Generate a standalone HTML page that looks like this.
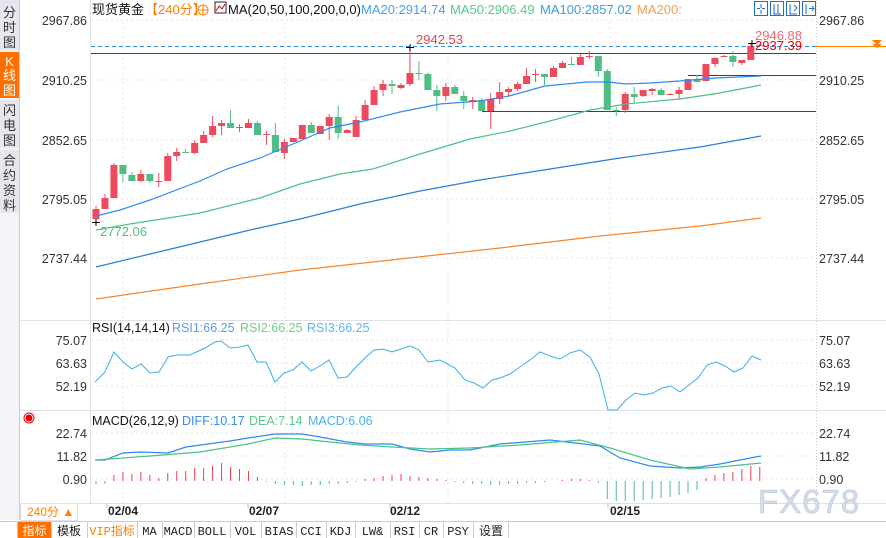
<!DOCTYPE html>
<html><head><meta charset="utf-8"><style>
body{margin:0;width:886px;height:538px;overflow:hidden;background:#fff;font-family:"Liberation Sans","Noto Sans CJK SC",sans-serif;}
svg{position:absolute;left:0;top:0}
</style></head><body>
<svg id="s" width="886" height="538" xmlns="http://www.w3.org/2000/svg" font-family="Liberation Sans, Noto Sans CJK SC, sans-serif">
<rect x="0" y="0" width="19" height="520" fill="#f4f4f8"/>
<rect x="0" y="0" width="19" height="50" fill="#e6e6ee"/>
<rect x="0" y="52" width="19" height="46" fill="#ff6f00"/>
<rect x="0" y="100" width="19" height="48" fill="#e6e6ee"/>
<rect x="0" y="150" width="19" height="63" fill="#e6e6ee"/>
<line x1="19.5" y1="0" x2="19.5" y2="520" stroke="#c8ccd6"/>
<g font-size="13" fill="#333" text-anchor="middle">
<text x="9.5" y="17">分</text><text x="9.5" y="32">时</text><text x="9.5" y="47">图</text>
<text x="9.5" y="66" fill="#fff">K</text><text x="9.5" y="80" fill="#fff">线</text><text x="9.5" y="95" fill="#fff">图</text>
<text x="9.5" y="115">闪</text><text x="9.5" y="130">电</text><text x="9.5" y="145">图</text>
<text x="9.5" y="165">合</text><text x="9.5" y="180">约</text><text x="9.5" y="195">资</text><text x="9.5" y="210">料</text>
</g>
<line x1="90.5" y1="0" x2="90.5" y2="503" stroke="#dde2ea"/>
<line x1="816.5" y1="0" x2="816.5" y2="503" stroke="#ccc" stroke-dasharray="1,2"/>
<line x1="20" y1="320.5" x2="886" y2="320.5" stroke="#dde2ea"/>
<line x1="20" y1="410.5" x2="886" y2="410.5" stroke="#dde2ea"/>
<line x1="20" y1="503.5" x2="886" y2="503.5" stroke="#dde2ea"/>
<g stroke="#e4e4e4" stroke-dasharray="2,3">
<line x1="91" y1="20" x2="816" y2="20"/><line x1="91" y1="80" x2="816" y2="80"/><line x1="91" y1="140" x2="816" y2="140"/><line x1="91" y1="199" x2="816" y2="199"/><line x1="91" y1="258" x2="816" y2="258"/>
<line x1="91" y1="340" x2="816" y2="340"/><line x1="91" y1="363" x2="816" y2="363"/><line x1="91" y1="386" x2="816" y2="386"/>
<line x1="91" y1="433" x2="816" y2="433"/><line x1="91" y1="456" x2="816" y2="456"/><line x1="91" y1="479" x2="816" y2="479"/>
<line x1="123" y1="22" x2="123" y2="503"/><line x1="285" y1="22" x2="285" y2="503"/><line x1="448" y1="22" x2="448" y2="503"/><line x1="610" y1="22" x2="610" y2="503"/>
</g>
<g font-size="12.5" fill="#333">
<g text-anchor="end"><text x="87" y="25">2967.86</text><text x="87" y="85">2910.25</text><text x="87" y="145">2852.65</text><text x="87" y="204">2795.05</text><text x="87" y="263">2737.44</text>
<text x="87" y="345">75.07</text><text x="87" y="368">63.63</text><text x="87" y="391">52.19</text>
<text x="87" y="438">22.74</text><text x="87" y="461">11.82</text><text x="87" y="484">0.90</text></g>
<text x="819" y="25">2967.86</text><text x="819" y="85">2910.25</text><text x="819" y="145">2852.65</text><text x="819" y="204">2795.05</text><text x="819" y="263">2737.44</text>
<text x="819" y="345">75.07</text><text x="819" y="368">63.63</text><text x="819" y="391">52.19</text>
<text x="819" y="438">22.74</text><text x="819" y="461">11.82</text><text x="819" y="484">0.90</text>
</g>
<g font-size="13">
<text x="92" y="14" fill="#111">现货黄金</text>
<text x="145" y="14" fill="#ff7f00">【240分】</text>
<circle cx="203" cy="10" r="5" fill="none" stroke="#ff7f00"/><line x1="198" y1="10" x2="208" y2="10" stroke="#ff7f00"/><line x1="203" y1="5" x2="203" y2="15" stroke="#ff7f00"/>
<rect x="215" y="2" width="11" height="11" fill="#fff" stroke="#223"/><polyline points="216,11 219,6 222,9 225,4" fill="none" stroke="#d00"/>
<text x="228" y="14" fill="#111">MA(20,50,100,200,0,0)</text>
<text x="361" y="14" fill="#4a9ef0">MA20:2914.74</text>
<text x="450" y="14" fill="#57c98a">MA50:2906.49</text>
<text x="540" y="14" fill="#3aa0e0">MA100:2857.02</text>
<text x="637" y="14" fill="#f6a050">MA200:</text>
<text x="92" y="332" fill="#111" font-size="12.5">RSI(14,14,14)</text>
<text x="172" y="332" fill="#5a9cf0" font-size="12.5">RSI1:66.25</text>
<text x="240" y="332" fill="#6cd08a" font-size="12.5">RSI2:66.25</text>
<text x="307" y="332" fill="#5ab8f0" font-size="12.5">RSI3:66.25</text>
<text x="92" y="425" fill="#111" font-size="12.5">MACD(26,12,9)</text>
<text x="182" y="425" fill="#3a8af0" font-size="12.5">DIFF:10.17</text>
<text x="249" y="425" fill="#5ac88a" font-size="12.5">DEA:7.14</text>
<text x="308" y="425" fill="#4ab0f0" font-size="12.5">MACD:6.06</text>
</g>
<g fill="none" stroke="#e00"><circle cx="29" cy="418" r="3" fill="#e00"/><circle cx="29" cy="418" r="5"/></g>
<g fill="none" stroke="#1e6fc8"><rect x="754.5" y="1.5" width="13" height="14"/><rect x="770.5" y="1.5" width="13" height="14"/><rect x="786.5" y="1.5" width="13" height="14"/><rect x="802.5" y="1.5" width="13" height="14"/>
<path d="M761 4v4M761 10v4M757 8.5h3M762 8.5h3M774 4v10h7M778 4v10M790 4v10h7M794 5l3 3-3 3M806 4v10M809 8.5h5M812 6l2 2.5-2 2.5"/></g>
<line x1="91" y1="46.5" x2="816" y2="46.5" stroke="#2f8fe8" stroke-dasharray="4,3"/>
<line x1="816" y1="46.5" x2="886" y2="46.5" stroke="#ff8000"/>
<path d="M872 40h10l-5 5zM872 44h10l-5 4z" fill="#ff8000"/>
<line x1="91" y1="53.5" x2="816" y2="53.5" stroke="#e00000"/>
<line x1="688" y1="75.5" x2="816" y2="75.5" stroke="#e00000"/>
<line x1="482" y1="111.5" x2="816" y2="111.5" stroke="#e00000"/>
<g id="c"></g>
<g font-size="13">
<text x="416" y="44" fill="#ee3c52">2942.53</text>
<text x="755" y="40" fill="#ee6a7a">2946.88</text>
<text x="755" y="50" fill="#e00">2937.39</text>
<text x="100" y="236" fill="#50c080">2772.06</text>
</g>
<g stroke="#000"><path d="M406 47.5h8M410 44v7M92 222.5h8M96 219v7M748 43.5h8M752 40v7"/></g>
<rect x="20" y="504" width="866" height="17" fill="#fff"/>
<rect x="20.5" y="503.5" width="57" height="17" fill="none" stroke="#dde2ea"/>
<text x="27" y="516" font-size="12" fill="#ff7f00">240分 ▲</text>
<g stroke="#bbb"><line x1="107" y1="503" x2="107" y2="508"/><line x1="248" y1="503" x2="248" y2="508"/><line x1="390" y1="503" x2="390" y2="508"/><line x1="608" y1="503" x2="608" y2="508"/></g>
<g font-size="12" fill="#222" font-weight="bold"><text x="108" y="515">02/04</text><text x="249" y="515">02/07</text><text x="390" y="515">02/12</text><text x="610" y="515">02/15</text></g>
<text x="758" y="513" font-size="33" fill="#d4dde8" stroke="#b8c6d6" stroke-width="0.6" letter-spacing="1">FX678</text>
<rect x="0" y="521" width="886" height="17" fill="#fff"/>
<line x1="0" y1="521.5" x2="886" y2="521.5" stroke="#ccc"/>
<rect x="18" y="522" width="33" height="16" fill="#ff6f00"/>
<g stroke="#ccc"><path d="M51.5 522v16M87.5 522v16M137.5 522v16M162.5 522v16M194.5 522v16M230.5 522v16M261.5 522v16M296.5 522v16M326.5 522v16M355.5 522v16M390.5 522v16M419.5 522v16M443.5 522v16M473.5 522v16M508.5 522v16M17.5 522v16"/></g>
<g font-size="12" fill="#222" text-anchor="middle" font-family="Liberation Mono, Noto Sans CJK SC, monospace">
<text x="34.5" y="535" fill="#fff">指标</text><text x="69" y="535">模板</text><text x="112" y="535" fill="#ff7f00">VIP指标</text><text x="149.5" y="535">MA</text><text x="178" y="535">MACD</text><text x="212" y="535">BOLL</text><text x="245.5" y="535">VOL</text><text x="279" y="535">BIAS</text><text x="311" y="535">CCI</text><text x="340.5" y="535">KDJ</text><text x="372.5" y="535">LW&amp;</text><text x="404.5" y="535">RSI</text><text x="431" y="535">CR</text><text x="458" y="535">PSY</text><text x="491" y="535">设置</text></g>
</svg>
<script>
var C=[[219,209,206,222,1],[209,198,194,209,1],[198,165,163,198,1],[165,174,165,182,0],[175,181,172,181,0],[181,174,170,182,1],[174,181,174,183,0],[181,181,173,187,1],[181,156,153,181,1],[156,152,148,161,1],
[152,153,149,153,0],[153,143,140,154,1],[143,135,131,143,1],[135,126,116,137,1],[126,123,120,135,1],[123,128,110,128,0],[127,127,124,132,1],[128,123,119,128,1],[123,135,121,135,0],[135,134,131,145,1],
[135,152,123,152,0],[153,142,139,159,1],[142,138,138,142,1],[139,125,125,139,1],[125,133,122,133,0],[134,126,126,134,1],[126,117,114,140,1],[117,133,106,139,0],[133,130,129,133,1],[137,120,116,137,1],
[120,105,100,120,1],[105,90,86,105,1],[90,84,80,96,1],[84,86,80,94,0],[88,85,83,89,1],[84,73,47,86,1],[73,73,61,80,0],[74,90,73,90,0],[90,96,85,111,0],[96,87,83,101,1],
[87,94,85,94,0],[96,101,91,109,0],[102,100,97,109,1],[100,111,98,111,0],[111,99,93,129,1],[99,92,82,104,1],[92,89,87,96,1],[89,84,82,91,1],[84,76,68,84,1],[75,74,69,82,1],
[74,77,74,85,0],[77,68,66,77,1],[68,63,61,68,1],[64,64,57,64,0],[65,57,54,65,1],[56,56,51,59,1],[56,71,56,77,0],[71,110,69,110,0],[110,110,107,116,0],[110,94,92,113,1],
[94,97,87,103,0],[96,90,90,97,1],[91,89,88,95,1],[90,95,88,95,0],[94,94,93,94,1],[94,90,87,99,1],[90,79,79,90,1],[79,82,75,82,0],[81,64,64,81,1],[64,58,57,67,1],
[57,56,55,57,1],[56,62,51,67,0],[63,60,60,65,1],[60,46,43,60,1],[45,45,44,46,0]];
var g=document.getElementById('c'),h='';
function X(i){return 96+i*8.97;}
C.forEach(function(c,i){var x=X(i),col=c[4]?'#ee4a5e':'#4fbd85';var t=Math.min(c[0],c[1]),b=Math.max(c[0],c[1]);
h+='<line x1="'+x+'" x2="'+x+'" y1="'+c[2]+'" y2="'+c[3]+'" stroke="'+col+'"/>';
h+='<rect x="'+(x-3.5)+'" y="'+t+'" width="7" height="'+Math.max(1,b-t)+'" fill="'+col+'"/>';});
function pl(p,col,w){return '<polyline fill="none" stroke="'+col+'" stroke-width="'+(w||1.2)+'" points="'+p+'"/>';}
h+=pl("96,216 120,210 150,200 200,181 227,169 260,158 300,141 330,128 360,122 400,112 440,104 480,101 509,96 545,86 587,82 608,82 626,84 650,83 680,81 716,78 761,76","#2f8af0");
h+=pl("96,230 130,224 200,213 260,198 300,184 340,174 373,169 420,154 470,139 510,131 550,121 590,110 626,104 680,99 720,93 761,85","#4cc282");
h+=pl("96,267 150,254 200,242 250,230 300,219 360,204 420,191 480,180 550,169 620,158 700,147 761,136","#2a7ed8");
h+=pl("96,299 200,284 300,270 400,259 500,248 600,236 700,226 761,218","#f5862e");
var r=[[95,382],[105,372],[114,352],[123,362],[132,369],[141,364],[150,373],[159,372],[168,357],[177,355],[190,355],[205,348],[215,342],[221,341],[230,348],[240,347],[248,345],[257,362],[266,362],[275,382],[284,373],[293,370],[302,362],[311,371],[320,366],[329,360],[338,378],[347,377],[356,367],[365,358],[374,350],[383,349],[392,352],[401,349],[410,346],[419,350],[428,362],[440,360],[455,368],[465,380],[474,383],[483,388],[492,380],[500,378],[510,374],[520,367],[530,360],[540,352],[550,356],[560,359],[570,353],[580,350],[590,357],[599,374],[608,410],[617,410],[626,400],[635,393],[644,395],[653,393],[662,388],[671,386],[680,392],[689,385],[698,378],[707,365],[716,362],[725,366],[734,372],[743,368],[752,356],[761,360]];
h+=pl(r.join(' '),"#3aaee8",1);
h+=pl("95,460 105,460 123,453 141,452 168,453 186,447 230,441 248,438 275,434 302,434 320,437 347,442 365,444 392,444 410,449 430,452 450,450 470,450 500,444 550,440 600,446 620,458 650,466 680,468 700,467 720,464 740,460 761,456","#2f8af0");
h+=pl("95,460 150,456 200,452 248,444 275,438 302,439 330,442 360,445 392,447 430,449 470,448 520,445 580,440 610,448 650,460 690,469 720,467 761,463","#4cc282");
var hv=[-3,-3,6,9,7,9,6,3,8,10,10,13,13,15,18,14,12,10,4,-1,-3,-4,-4,-5,-4,-4,-3,-3,-2,-1,2,3,5,6,7,5,4,3,2,1,-1,-2,-3,-3,-4,-4,-3,-3,-2,-2,-1,0,1,2,2,1,-2,-18,-20,-20,-20,-19,-18,-17,-16,-14,-12,-9,3,6,8,9,12,15,14];
hv.forEach(function(v,i){var x=X(i);if(v==0)return;h+='<line x1="'+x+'" x2="'+x+'" y1="481" y2="'+(481-v)+'" stroke="'+(v>0?'#e8404f':'#4fbd85')+'"/>';});
g.innerHTML=h;
</script>
</body></html>
